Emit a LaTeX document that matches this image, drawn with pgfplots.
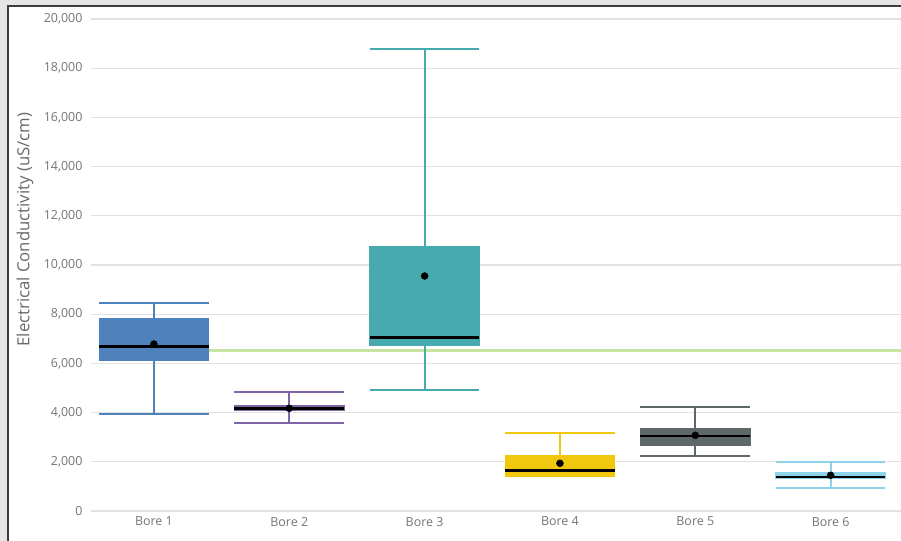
\documentclass[border=0pt]{standalone}
\usepackage{fontspec}
\setmainfont{Open Sans}
\usepackage{pgfplots}
\pgfplotsset{compat=1.18}

\definecolor{bggray}{RGB}{230,230,230}
\definecolor{framegray}{RGB}{60,60,60}
\definecolor{gridgray}{RGB}{226,226,226}
\definecolor{textgray}{RGB}{118,118,118}
\definecolor{labelgray}{RGB}{105,105,105}
\definecolor{cBoreA}{RGB}{79,129,189}
\definecolor{cBoreB}{RGB}{128,100,168}
\definecolor{cBoreC}{RGB}{70,170,175}
\definecolor{cBoreD}{RGB}{242,199,15}
\definecolor{cBoreE}{RGB}{95,104,104}
\definecolor{cBoreF}{RGB}{140,210,232}
\definecolor{limitgreen}{RGB}{200,228,160}

% one box-and-whisker glyph:
% #1 colour, #2 left, #3 centre, #4 right,
% #5 lower whisker, #6 lower quartile, #7 median, #8 upper quartile, #9 upper whisker
\newcommand{\borebox}[9]{%
  \addplot[#1, line width=2.2bp] coordinates {(#3,#5) (#3,#6)};
  \addplot[#1, line width=2.2bp] coordinates {(#3,#8) (#3,#9)};
  \addplot[#1, line width=2.2bp] coordinates {(#2,#5) (#4,#5)};
  \addplot[#1, line width=2.2bp] coordinates {(#2,#9) (#4,#9)};
  \addplot[draw=#1, fill=#1, line width=1.2bp] coordinates {(#2,#6) (#4,#6) (#4,#8) (#2,#8)} -- cycle;
  \addplot[black, line width=2.5bp] coordinates {(#2,#7) (#4,#7)};
}

\begin{document}
\begin{tikzpicture}
  % panel background and frame
  \fill[bggray] (0bp,0bp) rectangle (901bp,541bp);
  \fill[white] (8bp,-5bp) rectangle (910bp,535bp);
  \draw[framegray, line width=1.6bp] (8bp,-5bp) -- (8bp,535bp) -- (910bp,535bp);

  \begin{axis}[
    at={(91bp,30bp)}, anchor=south west,
    scale only axis, width=810bp, height=492bp,
    xmin=-0.465, xmax=5.52, ymin=0, ymax=20000,
    axis line style={draw=none}, tick style={draw=none},
    ymajorgrids, grid style={gridgray, line width=1.3bp},
    ytick={0,2000,...,20000}, scaled y ticks=false,
    xtick={0,1,2,3,4,5},
    xticklabels={Bore 1,Bore 2,Bore 3,Bore 4,Bore 5,Bore 6},
    yticklabel style={/pgf/number format/1000 sep={,},
                      /pgf/number format/assume math mode=true, xshift=-5bp},
    ticklabel style={font=\fontsize{12.5}{14}\selectfont, text=textgray},
    xticklabel style={yshift=-2.5bp},
    ylabel={Electrical Conductivity (uS/cm)},
    ylabel style={at={(axis description cs:-0.0815,0.572)}, anchor=center,
                  font=\fontsize{16.8}{18}\selectfont, text=labelgray},
    clip=false,
  ]
    % reference level
    \addplot[limitgreen, line width=2.5bp] coordinates {(0,6530) (5.52,6530)};

    \borebox{cBoreA}{-0.405}{0}{0.405}{3930}{6130}{6680}{7833}{8455}
    \borebox{cBoreB}{0.595}{1}{1.405}{3590}{4077}{4175}{4268}{4850}
    \borebox{cBoreC}{1.595}{2}{2.405}{4919}{6748}{7060}{10744}{18780}
    \borebox{cBoreD}{2.595}{3}{3.405}{1420}{1450}{1654}{2236}{3183}
    \borebox{cBoreE}{3.595}{4}{4.405}{2248}{2655}{3049}{3333}{4240}
    \borebox{cBoreF}{4.595}{5}{5.405}{935}{1314}{1382}{1558}{2005}

    % means
    \addplot[only marks, mark=*, mark size=3.5bp, black] coordinates {
      (0,6789) (1,4175) (2,9553) (3,1939) (4,3076) (5,1451)
    };
  \end{axis}
  \pgfresetboundingbox
  \useasboundingbox (0bp,0bp) rectangle (901bp,541bp);
\end{tikzpicture}
\end{document}
